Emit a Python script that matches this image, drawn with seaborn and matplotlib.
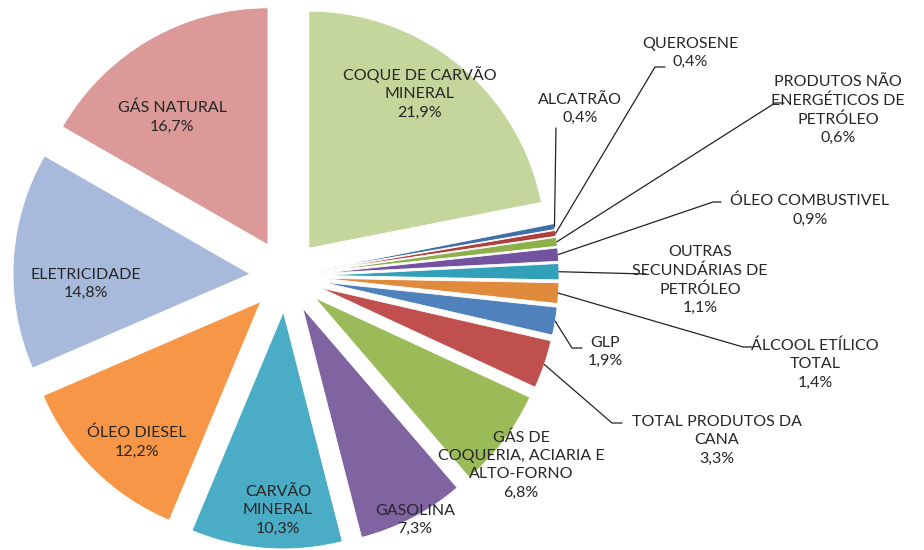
import numpy as np
import matplotlib
matplotlib.use("Agg")
import matplotlib.pyplot as plt
import seaborn as sns

# Consumption shares (%), clockwise from 12 o'clock
categories = ["COQUE DE CARVÃO\nMINERAL", "ALCATRÃO", "QUEROSENE",
              "PRODUTOS NÃO\nENERGÉTICOS DE\nPETRÓLEO", "ÓLEO COMBUSTIVEL",
              "OUTRAS\nSECUNDÁRIAS DE\nPETRÓLEO", "ÁLCOOL ETÍLICO\nTOTAL", "GLP",
              "TOTAL PRODUTOS DA\nCANA", "GÁS DE\nCOQUERIA, ACIARIA E\nALTO-FORNO",
              "GASOLINA", "CARVÃO\nMINERAL", "ÓLEO DIESEL", "ELETRICIDADE",
              "GÁS NATURAL"]
shares = [21.9, 0.4, 0.4, 0.6, 0.9, 1.1, 1.4, 1.9, 3.3, 6.8, 7.3, 10.3, 12.2, 14.8, 16.7]
colors = ["#C4D69C", "#3F6FA8", "#B0403E", "#8DB04A", "#7352A0", "#31A0B8",
          "#E08A3C", "#4F81BD", "#C0504D", "#9BBB59", "#8064A2", "#4BACC6",
          "#F79646", "#A7BADB", "#DB9A98"]

# label anchor points in image pixels (x, y from top)
label_pos = [(420, 93), (580, 109), (690, 53), (838, 110), (810, 210),
             (700, 280), (815, 364), (605, 352), (717, 440), (521, 465),
             (415, 520), (278, 510), (137, 442), (86, 284), (172, 117)]
# leader lines: None = label inside slice, else list of bend/end points
leaders = [None, [(556, 128)], [(655, 67), (665, 67)], [(775, 103), (784, 103)],
           [(713, 202), (721, 202)], [(646, 274)], [(743, 347), (752, 347)],
           [(572, 348), (582, 348)], [(612, 423), (622, 423)],
           None, None, None, None, None, None]

W, H = 924, 550
sns.set_theme(style="white")
plt.rcParams["font.family"] = ["Lato", "DejaVu Sans"]

fig = plt.figure(figsize=(W / 100, H / 100), dpi=100)
ax = fig.add_axes([0, 0, 1, 1])

cx, cy, r, ex = 286, H - 276, 237, 36
wedges, _ = ax.pie(shares, colors=colors, startangle=90, counterclock=False,
                   explode=[ex] * len(shares), radius=r, center=(cx, cy),
                   wedgeprops=dict(edgecolor="white", linewidth=0.6))

def pct(v):
    return f"{v:.1f}".replace(".", ",") + "%"

for w, name, v, (lx, ly), lead in zip(wedges, categories, shares, label_pos, leaders):
    ax.text(lx, H - ly, name + "\n" + pct(v), ha="center", va="center",
            fontsize=11.5, color="#262626", linespacing=1.4)
    if lead is not None:
        th = np.deg2rad((w.theta1 + w.theta2) / 2)
        sx = cx + (r + ex) * np.cos(th)
        sy = cy + (r + ex) * np.sin(th)
        xs = [sx] + [p[0] for p in lead]
        ys = [sy] + [H - p[1] for p in lead]
        ax.plot(xs, ys, color="#222222", lw=0.9)

ax.set_xlim(0, W)
ax.set_ylim(0, H)
ax.set_aspect("equal")
ax.axis("off")

fig.savefig("out.png", dpi=100)
